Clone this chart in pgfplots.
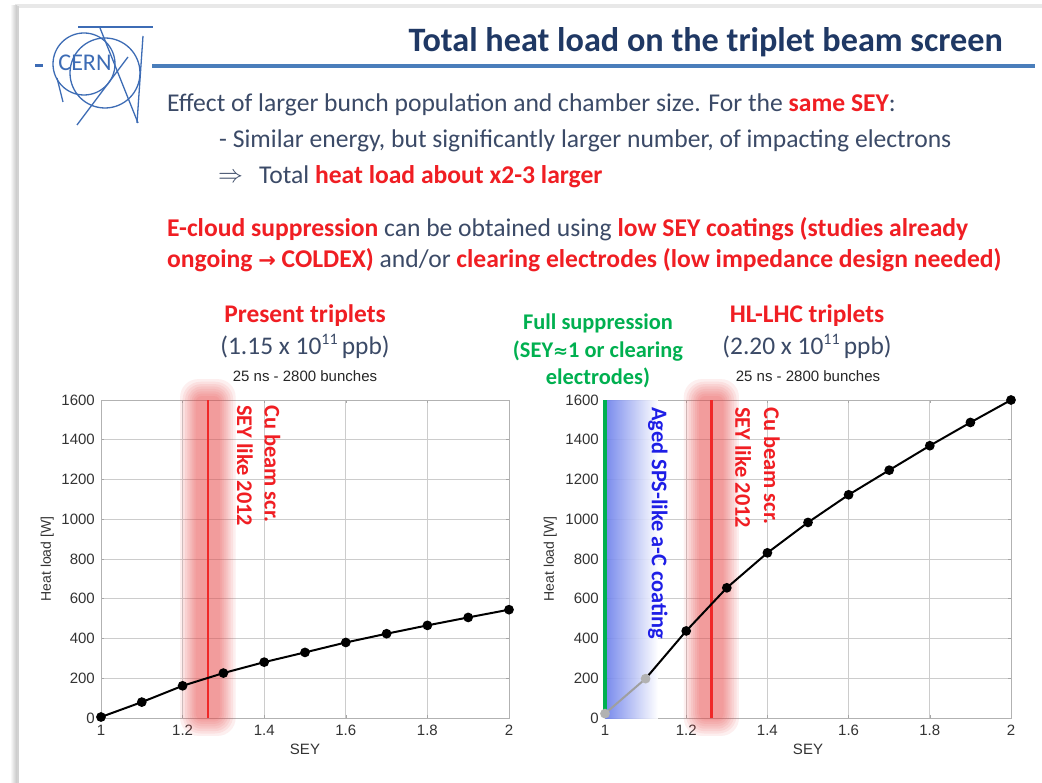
\documentclass[border=0pt]{standalone}
\usepackage{pgfplots}
\pgfplotsset{compat=1.18}
\usepackage{fontspec}
\setmainfont{Carlito}
\newfontfamily\arial{Liberation Sans}
\newfontfamily\dv{DejaVu Sans}
\newcommand\fs[1]{\fontsize{#1}{#1}\selectfont}
\definecolor{bodyc}{RGB}{59,74,103}
\definecolor{titlec}{RGB}{31,56,100}
\definecolor{redc}{RGB}{240,30,35}
\definecolor{greenc}{RGB}{0,176,80}
\definecolor{bluet}{RGB}{30,30,230}
\definecolor{logoc}{RGB}{61,108,181}
\definecolor{rulec}{RGB}{74,126,187}
\definecolor{redl}{RGB}{240,40,40}
\definecolor{glowc}{RGB}{235,70,70}
\definecolor{bluesh}{RGB}{105,125,235}
\newcommand\rb[1]{\textcolor{redc}{\bfseries #1}}
\newcommand\glow{%
 \fill[glowc,opacity=0.085,rounded corners=18pt] (axis cs:1.194,-90) rectangle (axis cs:1.330,1705);
 \fill[glowc,opacity=0.085,rounded corners=18pt] (axis cs:1.200,-78) rectangle (axis cs:1.324,1692);
 \fill[glowc,opacity=0.085,rounded corners=16pt] (axis cs:1.206,-66) rectangle (axis cs:1.318,1680);
 \fill[glowc,opacity=0.085,rounded corners=14pt] (axis cs:1.212,-54) rectangle (axis cs:1.312,1668);
 \fill[glowc,opacity=0.085,rounded corners=12pt] (axis cs:1.217,-42) rectangle (axis cs:1.307,1656);
 \fill[glowc,opacity=0.085,rounded corners=10pt] (axis cs:1.222,-30) rectangle (axis cs:1.302,1644);
 \fill[glowc,opacity=0.085,rounded corners=8pt] (axis cs:1.227,-18) rectangle (axis cs:1.297,1632);
 \fill[glowc,opacity=0.085,rounded corners=6pt] (axis cs:1.232,-8) rectangle (axis cs:1.292,1620);
 \draw[redl,line width=2.4pt] (axis cs:1.262,0) -- (axis cs:1.262,1600);
}
\pgfplotsset{heatax/.style={
 scale only axis, height=318pt, xmin=1, xmax=2, ymin=0, ymax=1600,
 xtick={1,1.2,1.4,1.6,1.8,2}, ytick={0,200,...,1600},
 grid=major, major grid style={draw=gray!40, line width=0.7pt},
 axis line style={draw=gray!60, line width=0.8pt},
 tick style={draw=gray!70, line width=0.6pt}, major tick length=3pt,
 tick align=inside,
 tick label style={font=\arial\fs{15}, text=black!80},
 /pgf/number format/assume math mode=true,
 /pgf/number format/1000 sep={},
 xticklabel style={inner sep=0pt, anchor=north, yshift=-7pt},
 yticklabel style={inner sep=0pt, anchor=east, xshift=-6pt},
 clip=false,
 title={25 ns - 2800 bunches},
 title style={font=\arial\fs{15}, text=black!85, at={(axis description cs:0.5,1)}, anchor=base, yshift=13pt, inner sep=0pt},
 xlabel={SEY},
 xlabel style={font=\arial\fs{15}, text=black!80, at={(axis description cs:0.5,0)}, anchor=north, yshift=-26pt, inner sep=0pt},
 ylabel={Heat load [W]},
 ylabel style={font=\arial\fs{14}, text=black!80, anchor=center, inner sep=0pt},
}}
\begin{document}
\begin{tikzpicture}
\begin{scope}[x=1pt,y=-1pt]
\useasboundingbox (0,0) rectangle (1042,783);
\fill[white] (0,0) rectangle (1042,783);
\fill[gray!18] (15,4) rectangle (1042,8);
\shade[left color=white, right color=gray!45] (10,6) rectangle (17,783);
\fill[gray!35] (17,6) rectangle (19,783);
% logo
\begin{scope}[draw=logoc, line width=1.3pt]
\draw (84,64) circle (31);
\draw (105,73) circle (35);
\draw (78,27) -- (153,27);
\draw (143,36) -- (137,123);
\draw (100,28) -- (138,123);
\draw (128,57) -- (77,125);
\draw (57,78) -- (63,102);
\end{scope}
\node[text=logoc, font=\fs{24}, inner sep=1pt] at (85,63) {CERN};
\draw[logoc, line width=3pt] (35,66) -- (43,66);
\draw[rulec, line width=3.5pt] (152,66) -- (1035,66);
% title
\node[anchor=base east, inner sep=0, text=titlec, font=\bfseries\fs{34.2}] at (1003,52) {Total heat load on the triplet beam screen};
% body
\node[anchor=base west, inner sep=0, text=bodyc, font=\fs{25.6}] at (167,112) {Effect of larger bunch population and chamber size. For the \rb{same SEY}:};
\node[anchor=base west, inner sep=0, text=bodyc, font=\fs{25.6}] at (219,148) {- Similar energy, but significantly larger number, of impacting electrons};
\node[anchor=base west, inner sep=0, text=bodyc, font=\fs{25}] at (218,183) {$\Rightarrow$};
\node[anchor=base west, inner sep=0, text=bodyc, font=\fs{25.6}] at (259,184) {Total \rb{heat load about x2-3 larger}};
\node[anchor=base west, inner sep=0, text=bodyc, font=\fs{25.6}] at (167,237) {\rb{E-cloud suppression} can be obtained using \rb{low SEY coatings (studies already}};
\node[anchor=base west, inner sep=0, text=bodyc, font=\fs{25.6}] at (167,268) {\rb{ongoing {\dv\fs{21}→} COLDEX)} and/or \rb{clearing electrodes (low impedance design needed)}};
% captions
\node[anchor=base, inner sep=0, text=redc, font=\bfseries\fs{25.4}] at (305,323) {Present triplets};
\node[anchor=base, inner sep=0, text=bodyc, font=\fs{25.4}] at (305,355) {(1.15 x 10\raisebox{0.42em}{\fs{16}11}\,ppb)};
\node[anchor=base, inner sep=0, text=redc, font=\bfseries\fs{25.4}] at (807,323) {HL-LHC triplets};
\node[anchor=base, inner sep=0, text=bodyc, font=\fs{25.4}] at (807,355) {(2.20 x 10\raisebox{0.42em}{\fs{16}11}\,ppb)};
\node[anchor=base, inner sep=0, text=greenc, font=\bfseries\fs{22.4}] at (598,330) {Full suppression};
\node[anchor=base, inner sep=0, text=greenc, font=\bfseries\fs{22.4}] at (598,358) {(SEY{\dv\fs{18}≈}1 or clearing};
\node[anchor=base, inner sep=0, text=greenc, font=\bfseries\fs{22.4}] at (598,385) {electrodes)};
\end{scope}

% left axis
\begin{axis}[heatax, at={(101pt,-718pt)}, anchor=south west, width=408pt,
 ylabel style={at={(axis description cs:-0.132,0.5)}}]
\glow
\addplot[black, line width=2pt, mark=*, mark size=3.8pt] coordinates {(1,5)(1.1,80)(1.2,162)(1.3,226)(1.4,281)(1.5,330)(1.6,380)(1.7,424)(1.8,466)(1.9,506)(2,545)};
\node[rotate=-90, anchor=west, inner sep=0, text=redc, font=\bfseries\fs{22.4}] at (axis cs:1.42,1575) {Cu beam scr.};
\node[rotate=-90, anchor=west, inner sep=0, text=redc, font=\bfseries\fs{22.4}] at (axis cs:1.353,1575) {SEY like 2012};
\end{axis}

% right axis
\begin{axis}[heatax, at={(605pt,-718pt)}, anchor=south west, width=406pt,
 ylabel style={at={(axis description cs:-0.135,0.5)}}]
\shade[left color=bluesh, right color=white, opacity=0.9] (axis cs:1,0) rectangle (axis cs:1.13,1600);
\glow
\addplot[gray!75, line width=2pt, mark=*, mark size=3.8pt, mark options={fill=gray!60, draw=gray!60}] coordinates {(1,22)(1.1,198)};
\addplot[black, line width=2pt, mark=*, mark size=3.8pt, mark indices={2,3,4,5,6,7,8,9,10}] coordinates {(1.1,198)(1.2,438)(1.3,655)(1.4,831)(1.5,984)(1.6,1123)(1.7,1247)(1.8,1370)(1.9,1487)(2,1600)};
\draw[greenc, line width=4.5pt] (axis cs:1,0) -- (axis cs:1,1600);
\node[rotate=-90, anchor=west, inner sep=0, text=redc, font=\bfseries\fs{22.4}] at (axis cs:1.411,1565) {Cu beam scr.};
\node[rotate=-90, anchor=west, inner sep=0, text=redc, font=\bfseries\fs{22.4}] at (axis cs:1.34,1565) {SEY like 2012};
\node[rotate=-90, anchor=west, inner sep=0, text=bluet, font=\bfseries\fs{22.4}] at (axis cs:1.13,1565) {Aged SPS-like a-C coating};
\end{axis}
\end{tikzpicture}
\end{document}
